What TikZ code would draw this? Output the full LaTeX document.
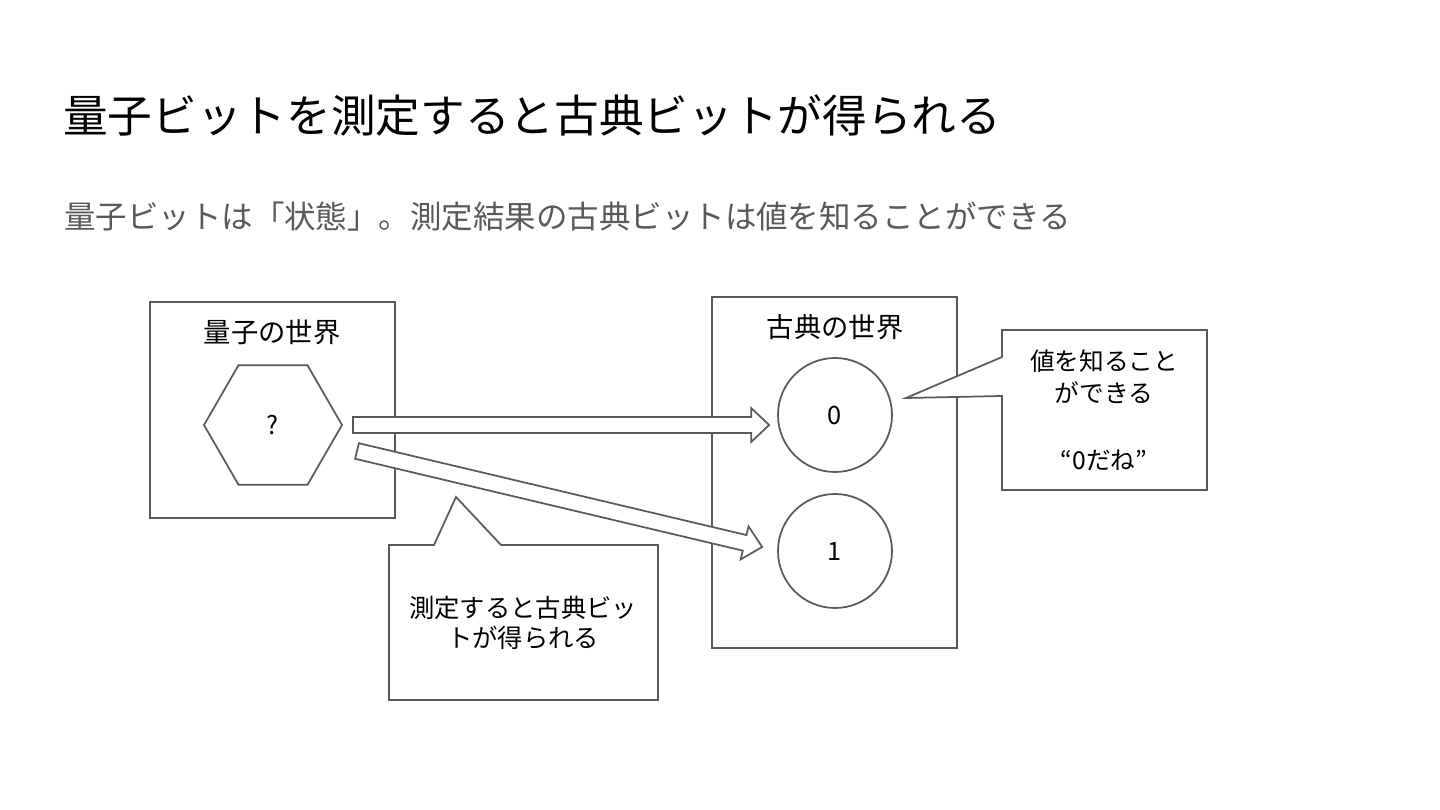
\documentclass[tikz,border=0pt]{standalone}
\usepackage{fontspec}
\setmainfont{Noto Sans CJK JP}
\usetikzlibrary{calc,shapes.geometric}
\definecolor{linegray}{HTML}{595959}
\tikzset{
  worldbox/.style={draw=linegray,line width=1.3pt,rectangle,inner sep=0pt,minimum width=183.75pt},
  worldlabel/.style={font=\fontsize{20.5}{24}\selectfont,inner sep=0pt},
  bitnode/.style={draw=linegray,line width=1.3pt,fill=white,circle,minimum size=85.5pt,inner sep=0pt,font=\fontsize{19}{22}\selectfont},
  blockarrow/.style={draw=linegray,line width=1.3pt,fill=white,line join=miter,
    to path={($(\tikztotarget)!13.5pt!(\tikztostart)$) coordinate (bh)
      ($(\tikztostart)!6pt!90:(\tikztotarget)$) -- ($(bh)!6pt!90:(\tikztotarget)$)
      -- ($(bh)!12.75pt!90:(\tikztotarget)$) -- (\tikztotarget)
      -- ($(bh)!12.75pt!-90:(\tikztotarget)$) -- ($(bh)!6pt!-90:(\tikztotarget)$)
      -- ($(\tikztostart)!6pt!-90:(\tikztotarget)$) -- cycle}},
  speech/.style={draw=linegray,line width=1.3pt,fill=white,line join=miter},
  speechtext/.style={font=\fontsize{19}{22.5}\selectfont,align=center,inner sep=0pt}
}
\begin{document}
\begin{tikzpicture}[x=0.75pt,y=-0.75pt]
  \useasboundingbox[fill=white] (0,0) rectangle (1440,810);
  % headings
  \node[anchor=west,inner sep=0pt,font=\fontsize{33.5}{40}\selectfont] (title) at (63,116)
    {量子ビットを測定すると古典ビットが得られる};
  \node[anchor=west,inner sep=0pt,text=linegray,font=\fontsize{23.6}{28}\selectfont] (subtitle) at (64,217)
    {量子ビットは「状態」。測定結果の古典ビットは値を知ることができる};
  % the two worlds
  \node[worldbox,minimum height=162pt] (qbox) at (272.5,410) {};
  \node[worldlabel] (qlabel) at (272,332) {量子の世界};
  \node[worldbox,minimum height=263.25pt] (cbox) at (834.5,472.5) {};
  \node[worldlabel] (clabel) at (835,327) {古典の世界};
  % qubit and the classical results
  \node[draw=linegray,line width=1.3pt,regular polygon,regular polygon sides=6,minimum size=103.5pt,
    inner sep=0pt,font=\fontsize{19}{22}\selectfont] (qhex) at (273,425) {?};
  \node[bitnode] (c0) at (835,415) {0};
  \node[bitnode] (c1) at (835,551) {1};
  % measurement arrows
  \coordinate (a1s) at ([xshift=7.5pt]qhex.east);
  \coordinate (a1e) at ([shift={(-8,10)}]c0.west);
  \coordinate (a2s) at ([shift={(14,26)}]qhex.east);
  \coordinate (a2e) at ([shift={(-15,-4)}]c1.west);
  \draw[blockarrow] (a1s) to (a1e);
  \draw[blockarrow] (a2s) to (a2e);
  % callout below the arrows
  \coordinate (mtip) at (456,497);
  \draw[speech] (389,545) -- (434,545) -- (mtip) -- (501,545) -- (658,545)
    -- (658,700) -- (389,700) -- cycle;
  \node[speechtext] (mtext) at (523,623) {測定すると古典ビッ\\トが得られる};
  % callout at the 0 result
  \coordinate (vtip) at ([shift={(13,-17)}]c0.east);
  \draw[speech] (1002,330) -- (1207,330) -- (1207,490) -- (1002,490) -- (1002,396)
    -- (vtip) -- (1002,357) -- cycle;
  \node[speechtext,font=\fontsize{18.5}{24}\selectfont] (vtext) at (1104,410)
    {値を知ること\\ができる\\[26pt]“0だね”};
\end{tikzpicture}
\end{document}
